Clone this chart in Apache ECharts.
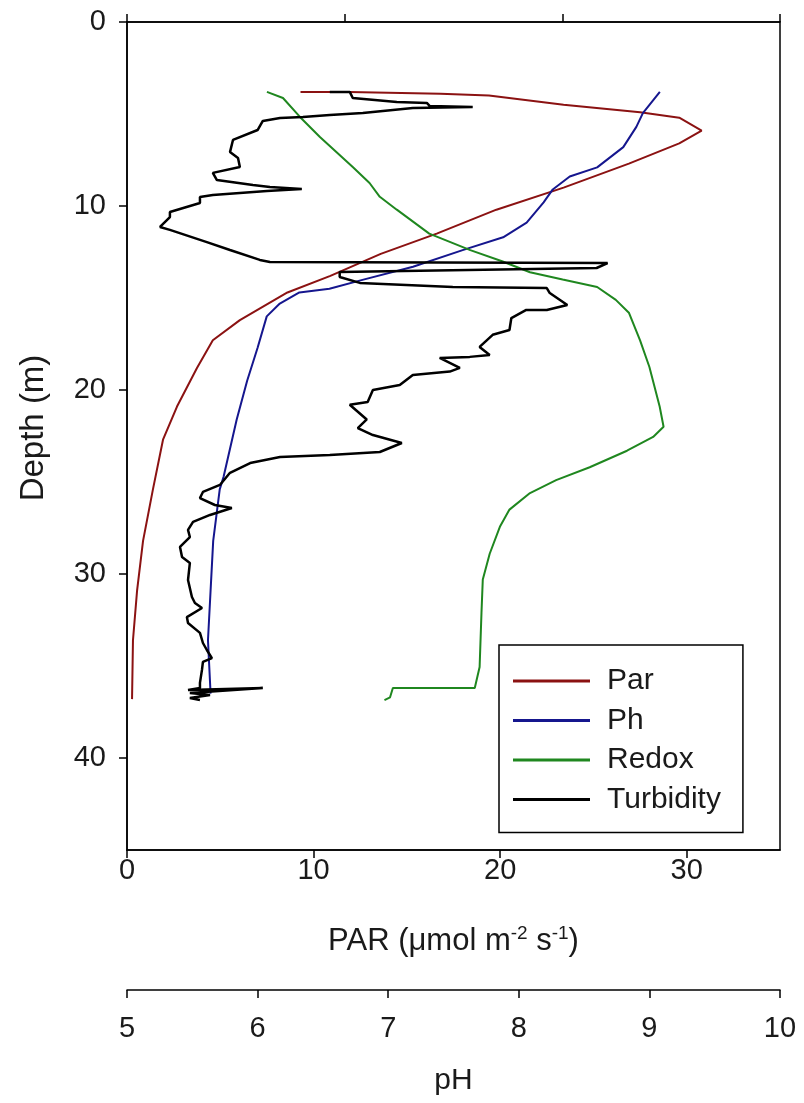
<!DOCTYPE html>
<html><head><meta charset="utf-8">
<script src="https://cdn.jsdelivr.net/npm/echarts@6/dist/echarts.min.js"></script>
<style>html,body{margin:0;padding:0;background:#fff}#c{width:804px;height:1103px}</style>
</head><body><div id="c"></div>
<script>
// Tick labels
const depthTicks = [0, 10, 20, 30, 40];
const parTicks = [0, 10, 20, 30];
const phTicks = [5, 6, 7, 8, 9, 10];
const topTicks = [0, 1, 2, 3];

// Par (PAR units) vs depth (m)
const parDepth = [3.8,3.8,3.9,4.0,4.5,4.9,5.2,5.9,6.6,7.7,9.0,10.2,11.5,12.6,13.8,14.7,16.2,17.3,18.8,20.9,22.7,25.4,28.2,30.9,33.6,36.8];
const parValue = [9.3,11.9,16.8,19.4,23.4,27.5,29.6,30.8,29.6,26.9,23.4,19.8,16.6,13.6,10.9,8.6,6.05,4.6,3.75,2.68,1.93,1.39,0.86,0.54,0.32,0.27];

// pH vs depth
const phDepth = [3.8,4.95,5.7,6.8,7.9,8.4,9.1,9.8,10.9,11.7,12.4,13.3,14.0,14.5,14.7,15.3,16.0,17.7,19.5,21.6,24.7,25.4,28.2,30.9,33.6,36.5];
const phValue = [9.08,8.95,8.9,8.8,8.6,8.39,8.26,8.19,8.06,7.88,7.57,7.19,6.81,6.55,6.32,6.17,6.07,6.0,5.92,5.84,5.74,5.71,5.66,5.64,5.62,5.64];

// Redox (drawn on the bottom scale) vs depth
const redoxDepth = [3.8,4.13,5.16,6.25,7.88,8.75,9.5,10.2,11.5,12.4,13.0,13.6,14.0,14.4,15.1,15.8,17.3,18.75,20.9,22.0,22.55,23.3,24.2,24.9,25.6,26.5,27.4,28.9,30.3,32.1,35.05,36.2,36.2,36.7,36.85];
const redoxValue = [7.5,8.36,9.27,10.34,12.1,13.0,13.55,14.46,16.2,18.4,20.1,21.6,23.35,25.2,26.2,26.9,27.5,28.0,28.55,28.76,28.2,26.8,24.8,23.0,21.6,20.5,20.0,19.44,19.07,19.0,18.9,18.64,14.25,14.1,13.8];

// Turbidity (drawn on the bottom scale) vs depth
const turbDepth = [3.8,3.8,4.13,4.35,4.4,4.57,4.62,4.67,4.95,5.05,5.16,5.22,5.38,5.87,6.41,7.07,7.39,7.88,8.2,8.59,8.86,8.97,9.08,9.18,9.4,9.51,9.84,10.33,10.6,11.14,11.3,11.96,12.39,12.93,13.04,13.1,13.37,13.59,13.86,14.18,14.4,14.46,14.73,15.38,15.65,15.65,16.09,16.74,17.0,17.66,18.1,18.2,18.26,18.8,19.0,19.18,19.73,20.0,20.65,20.8,21.6,22.07,22.45,22.88,23.37,23.53,23.64,23.97,24.5,25.16,25.54,25.87,26.25,26.41,26.79,27.17,27.6,27.99,28.53,29.08,29.4,30.33,31.25,31.58,31.85,32.34,32.66,33.2,33.75,34.13,34.57,34.78,35.2,35.92,36.2,36.3,36.2,36.47,36.58,36.74,36.85];
const turbValue = [10.87,11.94,12.1,14.46,16.07,16.23,18.53,15.32,12.64,10.87,9.43,8.2,7.28,7.0,5.68,5.52,5.95,6.05,4.6,4.82,6.75,7.66,9.37,7.5,4.6,3.91,3.91,2.3,2.3,1.77,2.3,4.28,5.52,7.12,7.66,25.76,25.17,11.4,11.4,12.48,17.46,22.5,22.66,23.6,22.5,21.4,20.6,20.5,19.6,18.9,19.44,18.37,16.76,17.84,17.3,15.32,14.62,13.18,12.9,11.94,12.85,12.37,13.18,14.73,13.55,10.87,8.2,6.6,5.52,4.98,4.07,3.91,4.71,5.62,4.45,3.54,3.27,3.37,2.84,2.95,3.37,3.27,3.48,3.64,4.02,3.21,3.27,3.91,4.07,4.28,4.55,4.07,4.02,3.91,3.91,3.27,7.28,3.37,4.45,3.37,3.91];

const seriesNames = ['Par', 'Ph', 'Redox', 'Turbidity'];
const seriesColors = ['#8b1212', '#15168e', '#1f871f', '#000000'];

const FONT = 'Liberation Sans, Arial, sans-serif';
const TXT = '#1a1a1a';
const pair = (vals, deps) => vals.map((v, i) => [v, deps[i]]);

const axisLineStyle = {color: '#000', width: 1.5};
function xAxisBase(extra) {
  return Object.assign({
    type: 'value',
    axisLine: {show: true, onZero: false, lineStyle: axisLineStyle},
    splitLine: {show: false},
  }, extra);
}

const chart = echarts.init(document.getElementById('c'));
chart.setOption({
  backgroundColor: '#fff',
  animation: false,
  grid: {left: 127, right: 24, top: 22, bottom: 253, show: true, borderColor: '#000', borderWidth: 1.5},
  xAxis: [
    xAxisBase({
      position: 'bottom', min: 0, max: 35, interval: 10,
      axisTick: {show: true, inside: false, length: 8, customValues: parTicks, lineStyle: axisLineStyle},
      axisLabel: {customValues: parTicks, margin: 6, fontSize: 29, color: TXT, fontFamily: FONT},
      name: 'PAR (μmol m{sup|-2} s{sup|-1})', nameLocation: 'middle', nameGap: 74,
      nameTextStyle: {fontSize: 31, color: TXT, fontFamily: FONT, lineHeight: 34,
        rich: {sup: {fontSize: 19, fontFamily: FONT, color: TXT, verticalAlign: 'top', lineHeight: 14}}}
    }),
    xAxisBase({
      position: 'bottom', offset: 140, min: 5, max: 10, interval: 1,
      axisTick: {show: true, inside: false, length: 8, customValues: phTicks, lineStyle: axisLineStyle},
      axisLabel: {customValues: phTicks, margin: 24, fontSize: 29, color: TXT, fontFamily: FONT},
      name: 'pH', nameLocation: 'middle', nameGap: 76,
      nameTextStyle: {fontSize: 30, color: TXT, fontFamily: FONT}
    }),
    xAxisBase({
      position: 'top', min: 0, max: 3, interval: 1,
      axisTick: {show: true, inside: false, length: 8, customValues: topTicks, lineStyle: axisLineStyle},
      axisLabel: {show: false}
    })
  ],
  yAxis: {
    type: 'value', inverse: true, min: 0, max: 45, interval: 10,
    axisLine: {show: true, onZero: false, lineStyle: axisLineStyle},
    axisTick: {show: true, inside: false, length: 8, customValues: depthTicks, lineStyle: axisLineStyle},
    axisLabel: {customValues: depthTicks, margin: 21, fontSize: 29, color: TXT, fontFamily: FONT},
    splitLine: {show: false},
    name: 'Depth (m)', nameLocation: 'middle', nameGap: 77, nameRotate: 90,
    nameTextStyle: {fontSize: 33, color: TXT, fontFamily: FONT, padding: [0, 0, 0, 16]}
  },
  legend: {
    orient: 'vertical', left: 499, top: 645,
    padding: [21, 22, 18, 14], itemWidth: 77, itemHeight: 3, itemGap: 9.5,
    icon: 'rect',
    borderColor: '#000', borderWidth: 1.5, backgroundColor: '#fff',
    textStyle: {fontSize: 30, color: TXT, fontFamily: FONT, lineHeight: 30, padding: [0, 0, 0, 12]},
    data: seriesNames
  },
  series: [
    {name: seriesNames[0], type: 'line', xAxisIndex: 0, symbol: 'none', data: pair(parValue, parDepth),
     lineStyle: {color: seriesColors[0], width: 2}, itemStyle: {color: seriesColors[0]}},
    {name: seriesNames[1], type: 'line', xAxisIndex: 1, symbol: 'none', data: pair(phValue, phDepth),
     lineStyle: {color: seriesColors[1], width: 2}, itemStyle: {color: seriesColors[1]}},
    {name: seriesNames[2], type: 'line', xAxisIndex: 0, symbol: 'none', data: pair(redoxValue, redoxDepth),
     lineStyle: {color: seriesColors[2], width: 2}, itemStyle: {color: seriesColors[2]}},
    {name: seriesNames[3], type: 'line', xAxisIndex: 0, symbol: 'none', data: pair(turbValue, turbDepth),
     lineStyle: {color: seriesColors[3], width: 2.5}, itemStyle: {color: seriesColors[3]}}
  ]
});
</script></body></html>
